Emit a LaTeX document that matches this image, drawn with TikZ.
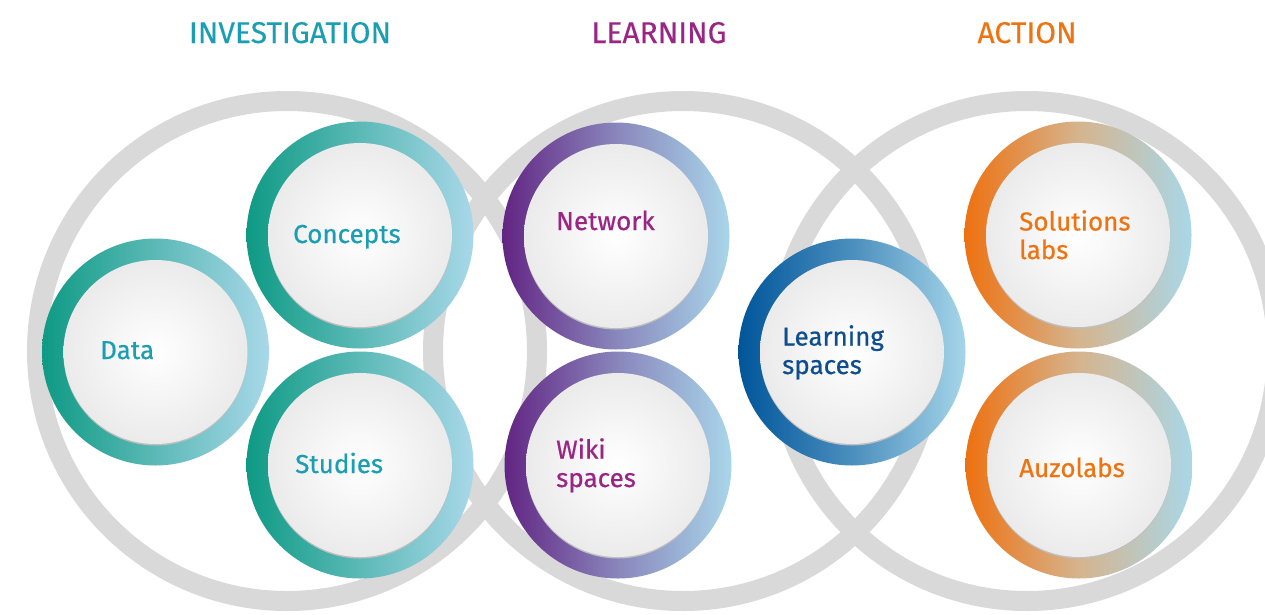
\documentclass[tikz,border=0pt]{standalone}
\usepackage{fontspec}
\setmainfont{Fira Sans}[FakeBold=0.6]
\newfontfamily\titlefont{Fira Sans}[FakeBold=0.3]
\definecolor{ringgray}{HTML}{D9D9D9}
\definecolor{tealdark}{HTML}{0E9A84}
\definecolor{teallight}{HTML}{A9D8E9}
\definecolor{purpdark}{HTML}{622583}
\definecolor{purplight}{HTML}{A9D6EA}
\definecolor{bluedark}{HTML}{00559A}
\definecolor{bluelight}{HTML}{A6D5E9}
\definecolor{orgdark}{HTML}{EE7110}
\definecolor{orgmid}{HTML}{D5B48E}
\definecolor{orglight}{HTML}{A9D7E8}
\definecolor{invtext}{HTML}{1A9EB4}
\definecolor{learntext}{HTML}{9B2585}
\definecolor{bluetext}{HTML}{0E4E8E}
\definecolor{acttext}{HTML}{EE7411}
\tikzset{
  bigring/.style={draw=ringgray, line width=20pt},
  label/.style={anchor=base west, inner sep=0pt, align=left,
    font=\fontsize{26}{28.5}\selectfont},
  title/.style={anchor=base, inner sep=0pt,
    font=\titlefont\fontsize{30}{34}\selectfont},
}
\newcommand\ringdisc[4]{%
  \shade[left color=#2, right color=#3, middle color=#4] (#1) circle[radius=113.5pt];
  \fill[black!25] ([yshift=-1.5pt]#1) circle[radius=92pt];
  \shade[inner color=white, outer color=black!8] (#1) circle[radius=92pt];
}
\begin{document}
\begin{tikzpicture}[x=1pt,y=-1pt]
\useasboundingbox[fill=white] (0,0) rectangle (1265,614);
% big grey circles
\coordinate (bigI) at (287,351);
\coordinate (bigL) at (683,351);
\coordinate (bigA) at (1027,351);
\draw[bigring] (bigI) circle[radius=250pt];
\draw[bigring] (bigL) circle[radius=250pt];
\draw[bigring] (bigA) circle[radius=250pt];
% titles
\node[title, text=invtext] (tInv) at (290,43) {INVESTIGATION};
\node[title, text=learntext] (tLearn) at (659,43) {LEARNING};
\node[title, text=acttext] (tAct) at (1027,43) {ACTION};
% ring discs
\coordinate (cData) at (155.5,352);
\coordinate (cConc) at (360,235);
\coordinate (cStud) at (360,465);
\coordinate (cNet) at (616,236);
\coordinate (cWiki) at (618,465);
\coordinate (cLsp) at (852,352);
\coordinate (cSol) at (1078,235);
\coordinate (cAuz) at (1079,465);
\ringdisc{cData}{tealdark}{teallight}{tealdark!50!teallight}
\ringdisc{cConc}{tealdark}{teallight}{tealdark!50!teallight}
\ringdisc{cStud}{tealdark}{teallight}{tealdark!50!teallight}
\ringdisc{cNet}{purpdark}{purplight}{purpdark!45!purplight}
\ringdisc{cWiki}{purpdark}{purplight}{purpdark!45!purplight}
\ringdisc{cLsp}{bluedark}{bluelight}{bluedark!55!bluelight}
\ringdisc{cSol}{orgdark}{orglight}{orgmid}
\ringdisc{cAuz}{orgdark}{orglight}{orgmid}
% labels (base = baseline of last line)
\node[label, text=invtext] (lData) at (100,359) {Data};
\node[label, text=invtext] (lConc) at (293,243) {Concepts};
\node[label, text=invtext] (lStud) at (295,473) {Studies};
\node[label, text=learntext] (lNet) at (556,230) {Network};
\node[label, text=learntext] (lWiki) at (556,487) {Wiki\\spaces};
\node[label, text=bluetext] (lLsp) at (782,374) {Learning\\spaces};
\node[label, text=acttext] (lSol) at (1019,259) {Solutions\\labs};
\node[label, text=acttext] (lAuz) at (1019,477) {Auzolabs};
\end{tikzpicture}
\end{document}
